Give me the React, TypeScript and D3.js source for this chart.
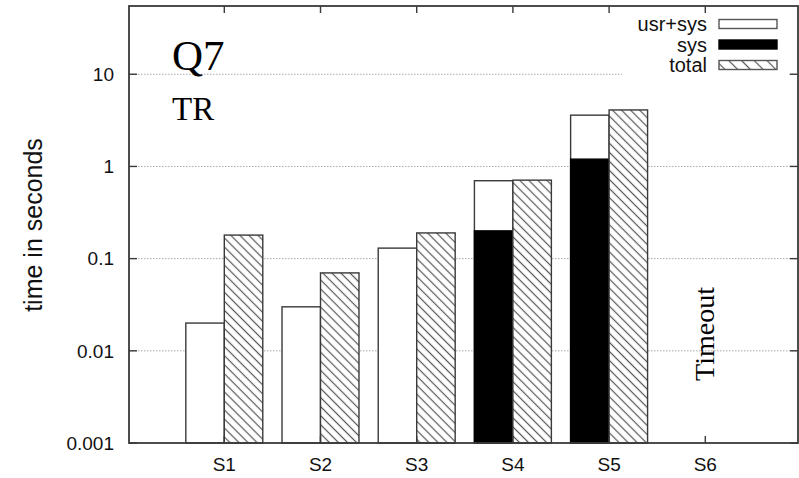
import React from "react";
import * as d3 from "d3";

const categories = ["S1", "S2", "S3", "S4", "S5", "S6"];
const usrSys: (number | null)[] = [0.02, 0.03, 0.13, 0.7, 3.6, null];
const sys: (number | null)[] = [null, null, null, 0.2, 1.2, null];
const total: (number | null)[] = [0.18, 0.07, 0.19, 0.71, 4.1, null];
const yTicks = [0.001, 0.01, 0.1, 1, 10];
const yTickLabels = ["0.001", "0.01", "0.1", "1", "10"];
const legendItems = ["usr+sys", "sys", "total"];
const timeoutLabel = "Timeout";
const timeoutIndex = 5;

const W = 799;
const H = 478;
const left = 129;
const right = 798;
const top = 6;
const bottom = 443;

export default function App() {
  const y = d3.scaleLog().domain([0.001, 55]).range([bottom, top]);
  const x = d3.scaleLinear().domain([1, 6]).range([224.3, 705.3]);
  const bw = x(1.4) - x(1);
  const sans = "'Liberation Sans', Arial, Helvetica, sans-serif";
  const serif = "'Liberation Serif', 'Times New Roman', serif";
  const edge = "#3a3a3a";

  const legendY = [24, 44.5, 65];

  return (
    <svg
      width={W}
      height={H}
      style={{ position: "absolute", left: 0, top: 0, background: "#fff" }}
    >
      <defs>
        <pattern
          id="hatch"
          patternUnits="userSpaceOnUse"
          width={6.4}
          height={6.4}
          patternTransform="rotate(45)"
        >
          <rect width={6.4} height={6.4} fill="#fff" />
          <line x1={0} y1={3.2} x2={6.4} y2={3.2} stroke="#555" strokeWidth={1.2} />
        </pattern>
        <pattern
          id="hatchLeg"
          patternUnits="userSpaceOnUse"
          width={9}
          height={9}
          patternTransform="rotate(45)"
        >
          <rect width={9} height={9} fill="#fff" />
          <line x1={0} y1={4.5} x2={9} y2={4.5} stroke="#555" strokeWidth={1.2} />
        </pattern>
      </defs>
      <rect x={0} y={0} width={W} height={H} fill="#fff" />

      {/* grid */}
      {yTicks.slice(1).map((t) => (
        <line
          key={"g" + t}
          x1={left}
          x2={right}
          y1={y(t)}
          y2={y(t)}
          stroke="#a8a8a8"
          strokeWidth={1}
          strokeDasharray="1.5,1.5"
        />
      ))}

      {/* legend background */}
      <rect x={622} y={8} width={167} height={70} fill="#fff" />

      {/* bars */}
      {categories.map((c, i) => {
        const cx = x(i + 1);
        const els: React.ReactNode[] = [];
        const us = usrSys[i];
        if (us != null) {
          els.push(
            <rect
              key="us"
              x={cx - bw}
              y={y(us)}
              width={bw}
              height={bottom - y(us)}
              fill="#fff"
              stroke={edge}
              strokeWidth={1.4}
            />
          );
        }
        const s = sys[i];
        if (s != null) {
          els.push(
            <rect
              key="sys"
              x={cx - bw}
              y={y(s)}
              width={bw}
              height={bottom - y(s)}
              fill="#000"
              stroke="#000"
              strokeWidth={1.4}
            />
          );
        }
        const t = total[i];
        if (t != null) {
          els.push(
            <rect
              key="tot"
              x={cx}
              y={y(t)}
              width={bw}
              height={bottom - y(t)}
              fill="url(#hatch)"
              stroke={edge}
              strokeWidth={1.4}
            />
          );
        }
        return <g key={c}>{els}</g>;
      })}

      {/* frame */}
      <rect
        x={left}
        y={top}
        width={right - left}
        height={bottom - top}
        fill="none"
        stroke={edge}
        strokeWidth={1.8}
      />

      {/* y ticks */}
      {yTicks.map((t, i) => (
        <g key={"yt" + t}>
          <line x1={left} x2={left + 8} y1={y(t)} y2={y(t)} stroke={edge} strokeWidth={1.4} />
          <line x1={right - 8} x2={right} y1={y(t)} y2={y(t)} stroke={edge} strokeWidth={1.4} />
          <text
            x={114}
            y={y(t)}
            dy="0.36em"
            textAnchor="end"
            fontFamily={sans}
            fontSize={19}
            fill="#111"
          >
            {yTickLabels[i]}
          </text>
        </g>
      ))}

      {/* x ticks */}
      {categories.map((c, i) => (
        <g key={"xt" + c}>
          <line x1={x(i + 1)} x2={x(i + 1)} y1={top} y2={top + 7} stroke={edge} strokeWidth={1.4} />
          <line x1={x(i + 1)} x2={x(i + 1)} y1={bottom} y2={bottom - 7} stroke={edge} strokeWidth={1.4} />
          <text
            x={x(i + 1)}
            y={471}
            textAnchor="middle"
            fontFamily={sans}
            fontSize={19}
            fill="#111"
          >
            {c}
          </text>
        </g>
      ))}

      {/* y axis label */}
      <text
        transform={`translate(42,225) rotate(-90)`}
        textAnchor="middle"
        fontFamily={sans}
        fontSize={25}
        fill="#111"
      >
        time in seconds
      </text>

      {/* titles */}
      <text x={172} y={70} fontFamily={serif} fontSize={43} fill="#000">
        Q7
      </text>
      <text x={172} y={120} fontFamily={serif} fontSize={33} fill="#000">
        TR
      </text>

      {/* Timeout */}
      <text
        transform={`translate(${x(timeoutIndex + 1) + 9},334) rotate(-90)`}
        textAnchor="middle"
        fontFamily={serif}
        fontSize={28}
        fill="#000"
      >
        {timeoutLabel}
      </text>

      {/* legend */}
      {legendItems.map((name, i) => (
        <g key={"lg" + name}>
          <text
            x={707}
            y={legendY[i] + 7}
            textAnchor="end"
            fontFamily={sans}
            fontSize={20}
            fill="#111"
          >
            {name}
          </text>
          <rect
            x={719}
            y={legendY[i] - 4.5}
            width={58}
            height={9}
            fill={i === 0 ? "#fff" : i === 1 ? "#000" : "url(#hatchLeg)"}
            stroke={i === 1 ? "#000" : "#555"}
            strokeWidth={1.4}
          />
        </g>
      ))}
    </svg>
  );
}
